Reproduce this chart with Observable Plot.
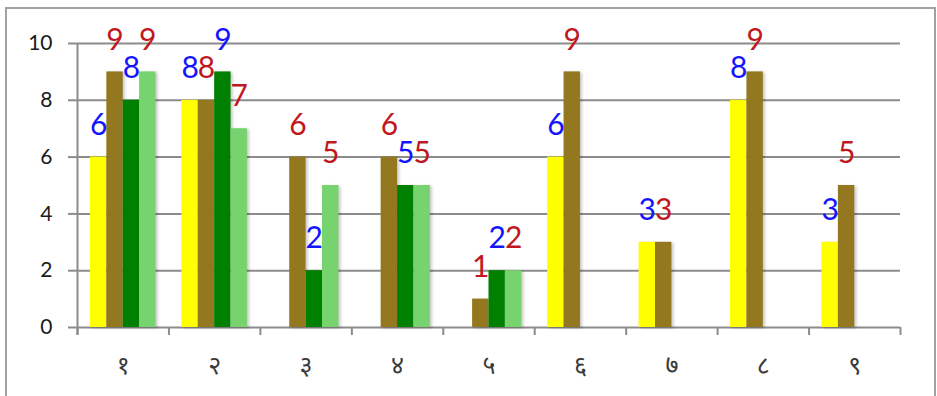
<!DOCTYPE html>
<html><head><meta charset="utf-8">
<script src="https://cdn.jsdelivr.net/npm/d3@7"></script>
<script src="https://cdn.jsdelivr.net/npm/@observablehq/plot@0.6"></script>
<style>
body{margin:0;background:#fff;}
#wrap{position:relative;width:937px;height:396px;overflow:hidden;}
#wrap svg{display:block;position:absolute;left:0;top:0;}
#border{position:absolute;left:5px;top:7px;width:931px;height:400px;border:2px solid #a0a0a0;box-sizing:border-box;pointer-events:none;}
g[aria-label="rect"]{filter:drop-shadow(2px 1px 1.5px rgba(0,0,0,0.22));}
</style></head><body><div id="wrap"></div>
<script>
const categories = ["१","२","३","४","५","६","७","८","९"];
const seriesNames = ["s1","s2","s3","s4"];
const seriesColors = ["#ffff00","#937820","#008000","#77d36e"];
const labelColors = ["#1414ff","#c0181e","#1414ff","#c0181e"];
const valuesS1 = [6,8,null,null,null,6,3,8,3];
const valuesS2 = [9,8,6,6,1,9,3,9,5];
const valuesS3 = [8,9,2,5,2,null,null,null,null];
const valuesS4 = [9,7,5,5,2,null,null,null,null];
const yTicks = [0,2,4,6,8,10];

const allValues = [valuesS1, valuesS2, valuesS3, valuesS4];
const rows = [];
allValues.forEach((vals, s) => vals.forEach((v, i) => {
  if (v != null) rows.push({i, s, cat: categories[i], series: seriesNames[s], value: v});
}));

// layout fractions within each category band
const groupFrac = 0.717;
const off = (1 - groupFrac) / 2;
const bw = groupFrac / seriesNames.length;
const boundaries = d3.range(categories.length + 1);
const centers = categories.map((c, i) => i + 0.5);
const gray = "#8c8c8c";
const font = "Lato, 'Noto Sans', sans-serif";

const chart = Plot.plot({
  width: 937,
  height: 396,
  marginTop: 43,
  marginBottom: 69,
  marginLeft: 77,
  marginRight: 37,
  style: {fontFamily: font, background: "transparent", overflow: "visible"},
  x: {domain: [0, categories.length], label: null},
  y: {domain: [0, 10], label: null},
  color: {type: "identity"},
  marks: [
    Plot.gridY({ticks: yTicks, stroke: gray, strokeOpacity: 1, strokeWidth: 2}),
    Plot.axisY({ticks: yTicks, tickSize: 9, tickPadding: 16, stroke: gray, strokeWidth: 2, fill: "#1a1a1a", fontSize: 21, label: null}),
    Plot.ruleX([0], {y1: -0.28, y2: 10, stroke: gray, strokeWidth: 2}),
    Plot.axisX({ticks: boundaries, tickSize: 8, tickFormat: () => "", stroke: gray, strokeWidth: 2, label: null}),
    Plot.axisX({ticks: centers, tickSize: 0, tickPadding: 29, tickFormat: d => categories[Math.floor(d)], fontSize: 25, fill: "#3a3a3a", label: null}),
    Plot.rect(rows, {
      x1: d => d.i + off + d.s * bw,
      x2: d => d.i + off + (d.s + 1) * bw,
      y1: 0,
      y2: "value",
      fill: d => seriesColors[d.s]
    }),
    Plot.text(rows, {
      x: d => d.i + off + (d.s + 0.5) * bw,
      y: "value",
      text: d => String(d.value),
      fill: d => labelColors[d.s],
      fontSize: 30,
      lineAnchor: "middle",
      dy: -32
    })
  ]
});
const wrap = document.getElementById("wrap");
wrap.appendChild(chart);
const b = document.createElement("div");
b.id = "border";
wrap.appendChild(b);
</script>
</body></html>
